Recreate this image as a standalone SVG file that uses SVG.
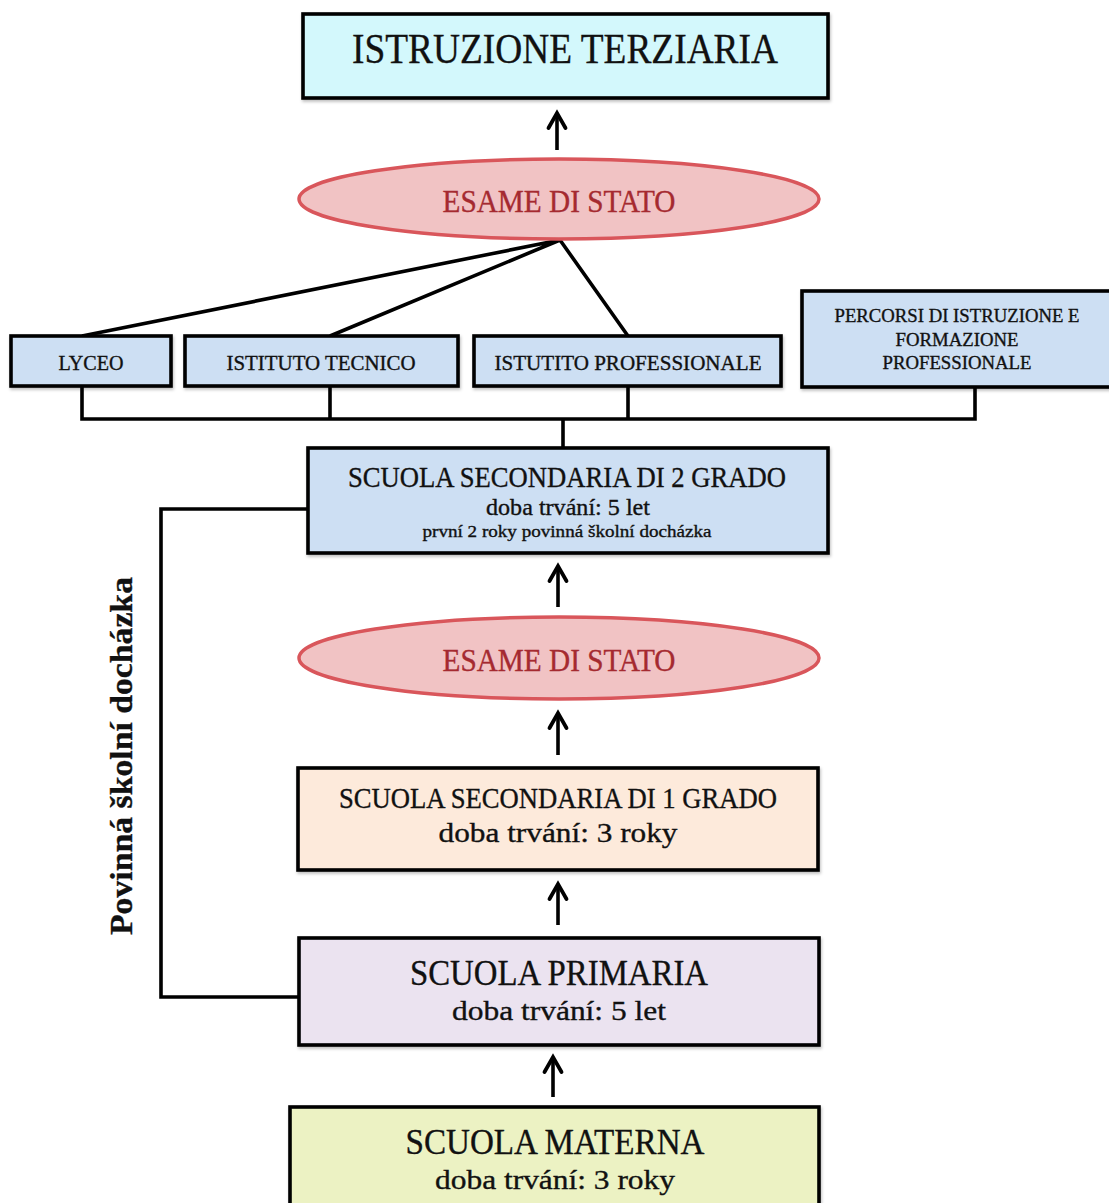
<svg xmlns="http://www.w3.org/2000/svg" width="1109" height="1203" viewBox="0 0 1109 1203">
<defs>
<marker id="arr" markerUnits="userSpaceOnUse" markerWidth="30" markerHeight="30" viewBox="-20 -15 30 30" refX="0" refY="0" orient="auto">
<path d="M-15,-8.5 L0,0 L-15,8.5" fill="none" stroke="#000" stroke-width="3.8" stroke-linecap="round" stroke-linejoin="miter"/>
</marker>
<filter id="sh" x="-5%" y="-10%" width="110%" height="130%">
<feDropShadow dx="1" dy="2" stdDeviation="1.5" flood-color="#000" flood-opacity="0.25"/>
</filter>
</defs>
<style>
text{font-family:"Liberation Serif","Times New Roman",serif;fill:#111;stroke:#111;stroke-width:0.35;text-anchor:middle}
.box{stroke:#000;stroke-width:3.6;filter:url(#sh)}
.blue{fill:#cddff3}
.ell{fill:#f1c3c4;stroke:#d9565b;stroke-width:3.5}
.et{fill:#a52a30;stroke:#a52a30;font-size:31px}
.conn{fill:none;stroke:#000;stroke-width:3.6;stroke-linejoin:miter}
.t21{font-size:21px}
.t19{font-size:19px}
</style>
<rect width="1109" height="1203" fill="#fff"/>

<g id="connectors">
<path class="conn" d="M557,150 L557,113" marker-end="url(#arr)"/>
<path class="conn" d="M82,336 L560,240 L330,336 M560,240 L628,336"/>
<path class="conn" d="M82,386 L82,419 L975,419 L975,387 M330,386 L330,419 M628,386 L628,419 M563,419 L563,448"/>
<path class="conn" d="M558,607 L558,566" marker-end="url(#arr)"/>
<path class="conn" d="M558,755 L558,713" marker-end="url(#arr)"/>
<path class="conn" d="M558,925 L558,884" marker-end="url(#arr)"/>
<path class="conn" d="M553,1097 L553,1057" marker-end="url(#arr)"/>
<path class="conn" d="M308,509 L161,509 L161,997 L299,997"/>
</g>

<g id="terziaria">
<rect class="box" x="303" y="14" width="525" height="84" fill="#d3f8fc"/>
<text x="565" y="63" font-size="43" textLength="426" lengthAdjust="spacingAndGlyphs">ISTRUZIONE TERZIARIA</text>
</g>

<g id="esame1">
<ellipse class="ell" cx="559" cy="199" rx="260" ry="40"/>
<text class="et" x="559" y="212" textLength="233" lengthAdjust="spacingAndGlyphs">ESAME DI STATO</text>
</g>

<g id="lyceo">
<rect class="box blue" x="11" y="336" width="160" height="50"/>
<text class="t21" x="91" y="370" textLength="65" lengthAdjust="spacingAndGlyphs">LYCEO</text>
</g>

<g id="tecnico">
<rect class="box blue" x="185" y="336" width="273" height="50"/>
<text class="t21" x="321" y="370" textLength="189" lengthAdjust="spacingAndGlyphs">ISTITUTO TECNICO</text>
</g>

<g id="professionale">
<rect class="box blue" x="474" y="336" width="307" height="50"/>
<text class="t21" x="628" y="370" textLength="267" lengthAdjust="spacingAndGlyphs">ISTUTITO PROFESSIONALE</text>
</g>

<g id="percorsi">
<rect class="box blue" x="802" y="291" width="312" height="96"/>
<text class="t19" x="957" y="322" textLength="245" lengthAdjust="spacingAndGlyphs">PERCORSI DI ISTRUZIONE E</text>
<text class="t19" x="957" y="346" textLength="123" lengthAdjust="spacingAndGlyphs">FORMAZIONE</text>
<text class="t19" x="957" y="369" textLength="149" lengthAdjust="spacingAndGlyphs">PROFESSIONALE</text>
</g>

<g id="secondaria2">
<rect class="box blue" x="308" y="448" width="520" height="105"/>
<text x="567" y="487" font-size="30" textLength="438" lengthAdjust="spacingAndGlyphs">SCUOLA SECONDARIA DI 2 GRADO</text>
<text x="568" y="515" font-size="23" textLength="164" lengthAdjust="spacingAndGlyphs">doba trvání: 5 let</text>
<text x="567" y="537" font-size="17" textLength="289" lengthAdjust="spacingAndGlyphs">první 2 roky povinná školní docházka</text>
</g>

<g id="esame2">
<ellipse class="ell" cx="559" cy="658" rx="260" ry="41"/>
<text class="et" x="559" y="671" textLength="233" lengthAdjust="spacingAndGlyphs">ESAME DI STATO</text>
</g>

<g id="secondaria1">
<rect class="box" x="298" y="768" width="520" height="102" fill="#fdeadb"/>
<text x="558" y="808" font-size="30" textLength="438" lengthAdjust="spacingAndGlyphs">SCUOLA SECONDARIA DI 1 GRADO</text>
<text x="558" y="842" font-size="28" textLength="239" lengthAdjust="spacingAndGlyphs">doba trvání: 3 roky</text>
</g>

<g id="primaria">
<rect class="box" x="299" y="938" width="520" height="107" fill="#ebe3f0"/>
<text x="559" y="985" font-size="36" textLength="298" lengthAdjust="spacingAndGlyphs">SCUOLA PRIMARIA</text>
<text x="559" y="1020" font-size="28" textLength="214" lengthAdjust="spacingAndGlyphs">doba trvání: 5 let</text>
</g>

<g id="materna">
<rect class="box" x="290" y="1107" width="529" height="110" fill="#ecf2c3"/>
<text x="555" y="1154" font-size="36" textLength="299" lengthAdjust="spacingAndGlyphs">SCUOLA MATERNA</text>
<text x="555" y="1189" font-size="28" textLength="240" lengthAdjust="spacingAndGlyphs">doba trvání: 3 roky</text>
</g>

<g id="povinna">
<text transform="translate(132,756) rotate(-90)" font-size="31" font-weight="bold" textLength="358" lengthAdjust="spacingAndGlyphs">Povinná školní docházka</text>
</g>
</svg>
